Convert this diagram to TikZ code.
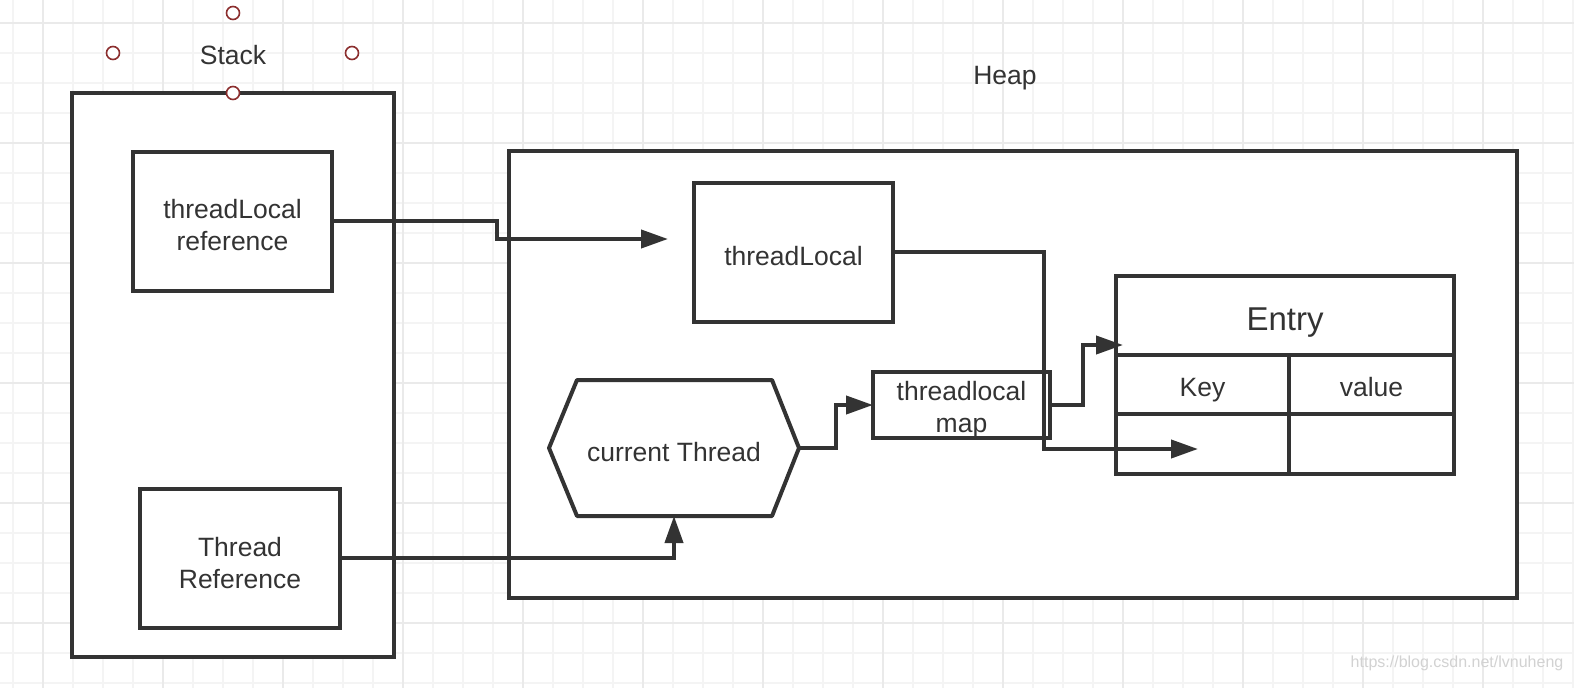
\documentclass[tikz,border=0pt]{standalone}
\usepackage{fontspec}
\setmainfont{Liberation Sans}
\usetikzlibrary{arrows.meta, positioning}

\definecolor{linec}{HTML}{333333}
\definecolor{handlec}{HTML}{8B2E2E}
\definecolor{gridlo}{HTML}{F4F4F4}
\definecolor{gridhi}{HTML}{EAEAEA}

\tikzset{
    box/.style={draw=linec, line width=4pt, inner sep=0pt, outer sep=0pt},
    txt/.style={inner sep=0pt, align=center, text=linec, font=\fontsize{26.5}{32}\selectfont, yshift=-4pt},
    handle/.style={circle, draw=handlec, fill=white, line width=1.6pt, minimum size=13pt, inner sep=0pt},
    conn/.style={draw=linec, line width=4pt, -{Triangle[length=27pt,width=18pt]}},
}

\begin{document}
\begin{tikzpicture}[x=1pt, y=-1pt]
    \useasboundingbox[fill=white] (0,0) rectangle (1574,688);
    % Grid
    \foreach \k in {0,...,52} \draw[gridlo, line width=1.2pt] (13+30*\k,0) -- (13+30*\k,688);
    \foreach \k in {0,...,22} \draw[gridlo, line width=1.2pt] (0,23+30*\k) -- (1574,23+30*\k);
    \foreach \k in {0,...,12} \draw[gridhi, line width=1.6pt] (43+120*\k,0) -- (43+120*\k,688);
    \foreach \k in {0,...,5} \draw[gridhi, line width=1.6pt] (0,23+120*\k) -- (1574,23+120*\k);

    % Stack
    \node[box, fill=white, minimum width=322pt, minimum height=564pt] (stack) at (233,375) {};
    \node[txt, yshift=3pt] (stacklbl) at (233,54) {Stack};
    \node[box, fill=white, minimum width=199pt, minimum height=139pt,
        label={[txt]center:threadLocal\\reference}] (tlref) at (232.5,221) {};
    \node[box, fill=white, minimum width=200pt, minimum height=139pt,
        label={[txt, yshift=-1pt]center:Thread\\Reference}] (thref) at (240,558) {};

    % Heap
    \node[txt, yshift=1pt] (heaplbl) at (1005,75) {Heap};
    \node[box, fill=white, minimum width=1008pt, minimum height=447pt] (heap) at (1013,374.5) {};
    \node[box, minimum width=199pt, minimum height=139pt,
        label={[txt]center:threadLocal}] (tl) at (793.5,252) {};
    \draw[linec, line width=4pt, line join=round] (549,448) -- (577,380) -- (772,380) -- (799,448)
        -- (772,516) -- (577,516) -- cycle;
    \node[inner sep=0pt, outer sep=0pt, minimum width=250pt, minimum height=136pt,
        label={[txt]center:current Thread}] (curthr) at (674,448) {};
    \node[box, minimum width=177pt, minimum height=66pt,
        label={[txt, yshift=-1pt]center:threadlocal\\map}] (tlmap) at (961.5,405) {};

    % Entry table
    \node[box, minimum width=338pt, minimum height=79pt,
        label={[txt, yshift=-3pt, font=\fontsize{33}{38}\selectfont]center:Entry}] (entry) at (1285,315.5) {};
    \node[box, minimum width=173pt, minimum height=59pt, anchor=north west,
        label={[txt, yshift=-2pt]center:Key}] (key) at (entry.south west) {};
    \node[box, minimum width=165pt, minimum height=59pt, anchor=north west,
        label={[txt, yshift=1pt]center:value}] (value) at (key.north east) {};
    \node[box, minimum width=173pt, minimum height=60pt, anchor=north west] (keyval) at (key.south west) {};
    \node[box, minimum width=165pt, minimum height=60pt, anchor=north west] (valval) at (value.south west) {};

    % Connectors
    \coordinate (tlin) at (668,239);
    \coordinate (entryin) at (1123,345);
    \coordinate (keyin) at (1198,449);
    \draw[conn] (tlref.east) -- (497,221) -- (497,239) -- (tlin);
    \draw[conn] (thref.east) -- (curthr.south |- thref.east) -- (curthr.south);
    \draw[conn] (curthr.east) -- (836,448) -- (836,405) -- (tlmap.west);
    \draw[conn] (tlmap.east) -- (1083,405) -- (1083,345) -- (entryin);
    \draw[conn] (tl.east) -- (1044,252) -- (1044,449) -- (keyin);

    % Selection handles
    \node[handle] (htop) at (233,13) {};
    \node[handle] (hleft) at (113,53) {};
    \node[handle] (hright) at (352,53) {};
    \node[handle] (hbot) at (233,93) {};

    \node[text=gray!35, font=\fontsize{16}{18}\selectfont] (wm) at (1457,663) {https://blog.csdn.net/lvnuheng};
\end{tikzpicture}
\end{document}
